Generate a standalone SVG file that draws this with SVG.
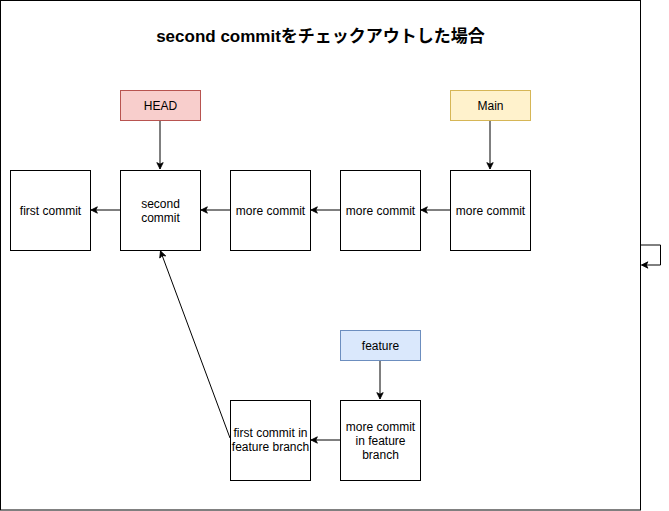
<svg xmlns="http://www.w3.org/2000/svg" width="669" height="511" viewBox="0 0 669 511">
<style>
.box{fill:#ffffff;stroke:#000000;stroke-width:1}
.t{font-family:"Liberation Sans","Noto Sans CJK JP",Arial,sans-serif;font-size:12px;fill:#000000;text-anchor:middle}
.title{font-family:"Liberation Sans","Noto Sans CJK JP",Arial,sans-serif;font-size:17px;font-weight:bold;fill:#000000;text-anchor:middle}
.c{fill:none;stroke:#000000;stroke-width:1}
</style>
<defs>
<marker id="ah" viewBox="0 0 10 10" refX="9" refY="5" markerWidth="8" markerHeight="8" markerUnits="userSpaceOnUse" orient="auto">
<path d="M1,1 L9,5 L1,9 L3,5 Z" fill="#000000" stroke="#000000" stroke-width="1"/>
</marker>
</defs>
<rect width="669" height="511" fill="#ffffff"/>
<g id="container">
<rect x="0.5" y="0.5" width="640" height="509.5" class="box"/>
<text x="320.5" y="42" class="title">second commitをチェックアウトした場合</text>
</g>
<g id="connectors">
<path class="c" d="M640.5,245 L660.5,245 L660.5,265 L641.5,265" marker-end="url(#ah)"/>
<path class="c" d="M160,120 L160,169" marker-end="url(#ah)"/>
<path class="c" d="M490,120 L490,169" marker-end="url(#ah)"/>
<path class="c" d="M380,360 L380,399" marker-end="url(#ah)"/>
<path class="c" d="M120,210 L91,210" marker-end="url(#ah)"/>
<path class="c" d="M230,210 L201,210" marker-end="url(#ah)"/>
<path class="c" d="M340,210 L311,210" marker-end="url(#ah)"/>
<path class="c" d="M450,210 L421,210" marker-end="url(#ah)"/>
<path class="c" d="M340,440 L311,440" marker-end="url(#ah)"/>
<path class="c" d="M230,438 L160.5,251" marker-end="url(#ah)"/>
</g>
<g id="head">
<rect x="120.5" y="90.5" width="80" height="30" fill="#f8cecc" stroke="#b85450"/>
<text x="160.5" y="110" class="t">HEAD</text>
</g>
<g id="main">
<rect x="450.5" y="90.5" width="80" height="30" fill="#fff2cc" stroke="#d6b656"/>
<text x="490.5" y="110" class="t">Main</text>
</g>
<g id="feature">
<rect x="340.5" y="330.5" width="80" height="30" fill="#dae8fc" stroke="#6c8ebf"/>
<text x="380.5" y="350" class="t">feature</text>
</g>
<g id="first-commit">
<rect x="10.5" y="170.5" width="80" height="80" class="box"/>
<text x="50.5" y="215" class="t">first commit</text>
</g>
<g id="second-commit">
<rect x="120.5" y="170.5" width="80" height="80" class="box"/>
<text x="160.5" y="208" class="t">second</text>
<text x="160.5" y="222" class="t">commit</text>
</g>
<g id="more-commit-1">
<rect x="230.5" y="170.5" width="80" height="80" class="box"/>
<text x="270.5" y="215" class="t">more commit</text>
</g>
<g id="more-commit-2">
<rect x="340.5" y="170.5" width="80" height="80" class="box"/>
<text x="380.5" y="215" class="t">more commit</text>
</g>
<g id="more-commit-3">
<rect x="450.5" y="170.5" width="80" height="80" class="box"/>
<text x="490.5" y="215" class="t">more commit</text>
</g>
<g id="first-commit-feature">
<rect x="230.5" y="400.5" width="80" height="80" class="box"/>
<text x="270.5" y="437" class="t">first commit in</text>
<text x="270.5" y="451" class="t">feature branch</text>
</g>
<g id="more-commit-feature">
<rect x="340.5" y="400.5" width="80" height="80" class="box"/>
<text x="380.5" y="431" class="t">more commit</text>
<text x="380.5" y="445" class="t">in feature</text>
<text x="380.5" y="459" class="t">branch</text>
</g>
</svg>
